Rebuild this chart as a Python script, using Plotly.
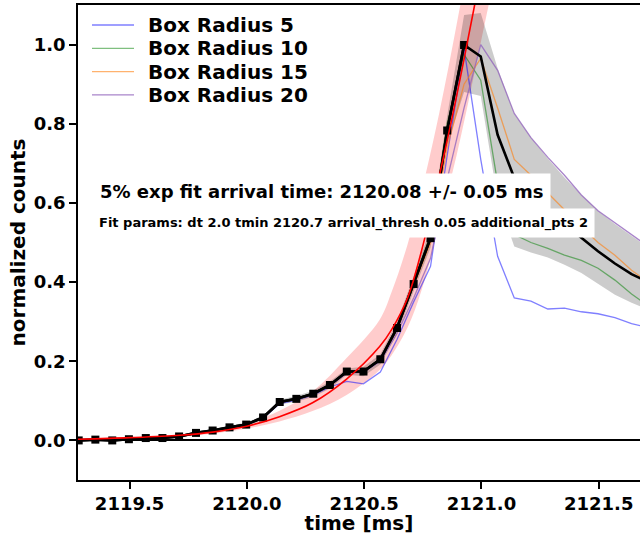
import plotly.graph_objects as go

# ---------------- data ----------------
time_ms = [2119.283, 2119.354, 2119.426, 2119.497, 2119.569, 2119.640, 2119.711,
           2119.783, 2119.854, 2119.926, 2119.997, 2120.069, 2120.140, 2120.211,
           2120.283, 2120.354, 2120.426, 2120.497, 2120.569, 2120.640, 2120.711,
           2120.783, 2120.854, 2120.926, 2120.997, 2121.069, 2121.140, 2121.211,
           2121.283, 2121.354, 2121.426, 2121.497, 2121.569, 2121.640, 2121.711]

mean_counts = [0.000, 0.002, 0.000, 0.003, 0.006, 0.006, 0.010, 0.019, 0.025, 0.033,
               0.040, 0.058, 0.097, 0.105, 0.118, 0.140, 0.174, 0.174, 0.205, 0.284,
               0.395, 0.511, 0.783, 0.999, 0.970, 0.772, 0.663, 0.620, 0.585, 0.548,
               0.512, 0.478, 0.447, 0.420, 0.400]
n_fit_points = 24  # points drawn with markers (up to the peak)

band_lo = [0.000, 0.000, 0.000, 0.001, 0.004, 0.003, 0.007, 0.016, 0.021, 0.029,
           0.035, 0.053, 0.091, 0.098, 0.110, 0.131, 0.166, 0.162, 0.192, 0.268,
           0.375, 0.487, 0.746, 0.880, 0.870, 0.610, 0.490, 0.475, 0.462, 0.444,
           0.423, 0.395, 0.368, 0.348, 0.330]
band_hi = [0.002, 0.004, 0.002, 0.005, 0.008, 0.009, 0.013, 0.022, 0.029, 0.037,
           0.045, 0.063, 0.103, 0.112, 0.126, 0.149, 0.182, 0.186, 0.218, 0.300,
           0.415, 0.535, 0.820, 1.075, 1.080, 0.940, 0.825, 0.765, 0.712, 0.664,
           0.620, 0.580, 0.547, 0.517, 0.487]

radius_labels = ["Box Radius 5", "Box Radius 10", "Box Radius 15", "Box Radius 20"]
radius_5 = [0.000, 0.002, 0.000, 0.003, 0.005, 0.006, 0.010, 0.018, 0.024, 0.032,
            0.040, 0.056, 0.093, 0.102, 0.115, 0.135, 0.149, 0.143, 0.173, 0.255,
            0.350, 0.440, 0.720, 0.990, 0.710, 0.465, 0.360, 0.352, 0.332, 0.334,
            0.325, 0.320, 0.310, 0.295, 0.285]
radius_10 = [0.000, 0.002, 0.000, 0.003, 0.006, 0.006, 0.010, 0.019, 0.025, 0.033,
             0.041, 0.058, 0.097, 0.106, 0.119, 0.141, 0.174, 0.176, 0.206, 0.285,
             0.400, 0.520, 0.800, 0.975, 0.910, 0.650, 0.520, 0.500, 0.485, 0.468,
             0.455, 0.435, 0.405, 0.370, 0.340]
radius_15 = [0.000, 0.002, 0.000, 0.003, 0.006, 0.006, 0.010, 0.019, 0.025, 0.033,
             0.040, 0.058, 0.097, 0.105, 0.118, 0.140, 0.172, 0.174, 0.204, 0.282,
             0.390, 0.500, 0.740, 0.900, 0.965, 0.840, 0.710, 0.670, 0.625, 0.582,
             0.540, 0.500, 0.468, 0.430, 0.400]
radius_20 = [0.000, 0.002, 0.000, 0.003, 0.006, 0.006, 0.010, 0.019, 0.025, 0.033,
             0.040, 0.057, 0.095, 0.104, 0.117, 0.138, 0.170, 0.172, 0.200, 0.270,
             0.360, 0.460, 0.660, 0.840, 1.000, 0.935, 0.826, 0.765, 0.715, 0.670,
             0.620, 0.580, 0.550, 0.520, 0.490]
radius_series = [radius_5, radius_10, radius_15, radius_20]
radius_colors = ["rgba(0,0,255,0.5)", "rgba(0,128,0,0.5)",
                 "rgba(255,127,14,0.6)", "rgba(148,103,189,0.8)"]

fit_time = [2119.278, 2119.500, 2119.713, 2119.854, 2119.999, 2120.139, 2120.280,
            2120.425, 2120.566, 2120.617, 2120.685, 2120.745, 2120.821, 2120.894,
            2120.971, 2121.013, 2121.056]
fit_curve = [0.003, 0.007, 0.013, 0.021, 0.036, 0.060, 0.095, 0.155, 0.237, 0.280,
             0.360, 0.480, 0.670, 0.870, 1.100, 1.230, 1.370]
fit_hi = [0.004, 0.008, 0.015, 0.025, 0.043, 0.075, 0.124, 0.208, 0.305, 0.375,
          0.495, 0.630, 0.830, 1.050, 1.300, 1.450, 1.600]
fit_lo = [0.002, 0.006, 0.011, 0.017, 0.030, 0.048, 0.074, 0.115, 0.178, 0.215,
          0.285, 0.380, 0.550, 0.720, 0.930, 1.050, 1.170]

x_ticks = [2119.5, 2120.0, 2120.5, 2121.0, 2121.5]
y_ticks = [0.0, 0.2, 0.4, 0.6, 0.8, 1.0]
x_range = [2119.28, 2121.676]
y_range = [-0.1, 1.1]

fit_text = "5% exp fit arrival time: 2120.08 +/- 0.05 ms"
param_text = "Fit params: dt 2.0 tmin 2120.7 arrival_thresh 0.05 additional_pts 2"

FONT = "DejaVu Sans"

# ---------------- figure ----------------
fig = go.Figure()

# pink fit uncertainty band
fig.add_trace(go.Scatter(x=fit_time, y=fit_lo, mode="lines", line=dict(width=0, shape="spline"),
                         showlegend=False, hoverinfo="skip"))
fig.add_trace(go.Scatter(x=fit_time, y=fit_hi, mode="lines", line=dict(width=0, shape="spline"),
                         fill="tonexty", fillcolor="rgba(255,0,0,0.2)",
                         showlegend=False, hoverinfo="skip"))

# gray spread band
fig.add_trace(go.Scatter(x=time_ms, y=band_lo, mode="lines", line=dict(width=0),
                         showlegend=False, hoverinfo="skip"))
fig.add_trace(go.Scatter(x=time_ms, y=band_hi, mode="lines", line=dict(width=0),
                         fill="tonexty", fillcolor="rgba(0,0,0,0.2)",
                         showlegend=False, hoverinfo="skip"))

# individual radii
for label, ys, col in zip(radius_labels, radius_series, radius_colors):
    fig.add_trace(go.Scatter(x=time_ms, y=ys, mode="lines", name=label,
                             line=dict(color=col, width=1.3), showlegend=False))

# mean line and fit data points
fig.add_trace(go.Scatter(x=time_ms, y=mean_counts, mode="lines",
                         line=dict(color="black", width=2.6), showlegend=False))
fig.add_trace(go.Scatter(x=time_ms[:n_fit_points], y=mean_counts[:n_fit_points],
                         mode="lines+markers", line=dict(color="black", width=2.6),
                         marker=dict(symbol="square", size=8, color="black"),
                         showlegend=False))

# exponential fit
fig.add_trace(go.Scatter(x=fit_time, y=fit_curve, mode="lines",
                         line=dict(color="red", width=1.6, shape="spline"),
                         showlegend=False))

# ---- legend (drawn as line samples + labels in the upper-left corner) ----
PLOT_L, PLOT_W = 78, 562
PLOT_B, PLOT_H = 480, 475
def px_x(p):
    return (p - PLOT_L) / PLOT_W
def px_y(p):
    return (PLOT_B - p) / PLOT_H

legend_row0, legend_pitch = 25, 23.3
for i, (label, col) in enumerate(zip(radius_labels, radius_colors)):
    yy = px_y(legend_row0 + i * legend_pitch)
    fig.add_shape(type="line", xref="paper", yref="paper",
                  x0=px_x(92), x1=px_x(134), y0=yy, y1=yy,
                  line=dict(color=col, width=1.3))
    fig.add_annotation(xref="paper", yref="paper", x=px_x(146), y=yy,
                       xanchor="left", yanchor="middle", showarrow=False,
                       text=label,
                       font=dict(family=FONT, size=20, color="black", weight="bold"))

fig.add_annotation(xref="paper", yref="paper", x=px_x(92), y=px_y(192),
                   xanchor="left", yanchor="middle", showarrow=False,
                   text=fit_text, bgcolor="white", borderpad=7,
                   font=dict(family=FONT, size=18, color="black", weight="bold"))
fig.add_annotation(xref="paper", yref="paper", x=px_x(92), y=px_y(223),
                   xanchor="left", yanchor="middle", showarrow=False,
                   text=param_text, bgcolor="white", borderpad=6,
                   font=dict(family=FONT, size=13, color="black", weight="bold"))

axis_font = dict(family=FONT, size=18, color="black", weight="bold")
title_font = dict(family=FONT, size=20, color="black", weight="bold")

fig.update_layout(
    width=640, height=535,
    margin=dict(l=78, r=0, t=5, b=55),
    paper_bgcolor="white", plot_bgcolor="white",
    font=dict(family=FONT, color="black"),
    showlegend=False,
    xaxis=dict(range=x_range, tickvals=x_ticks, ticktext=[f"{v:.1f}" for v in x_ticks],
               showgrid=False, zeroline=False, showline=True, linecolor="black",
               linewidth=1.6, mirror=True, ticks="outside", ticklen=7, tickwidth=1.6,
               tickcolor="black", tickfont=axis_font,
               title=dict(text="time [ms]", font=title_font, standoff=8)),
    yaxis=dict(range=y_range, tickvals=y_ticks, ticktext=[f"{v:.1f}" for v in y_ticks],
               showgrid=False, zeroline=True, zerolinecolor="black", zerolinewidth=1.6,
               showline=True, linecolor="black", linewidth=1.6, mirror=False,
               ticks="outside", ticklen=7, tickwidth=1.6, tickcolor="black",
               tickfont=axis_font,
               title=dict(text="normalized counts", font=title_font, standoff=3)),
)

fig.write_html("out.html")
